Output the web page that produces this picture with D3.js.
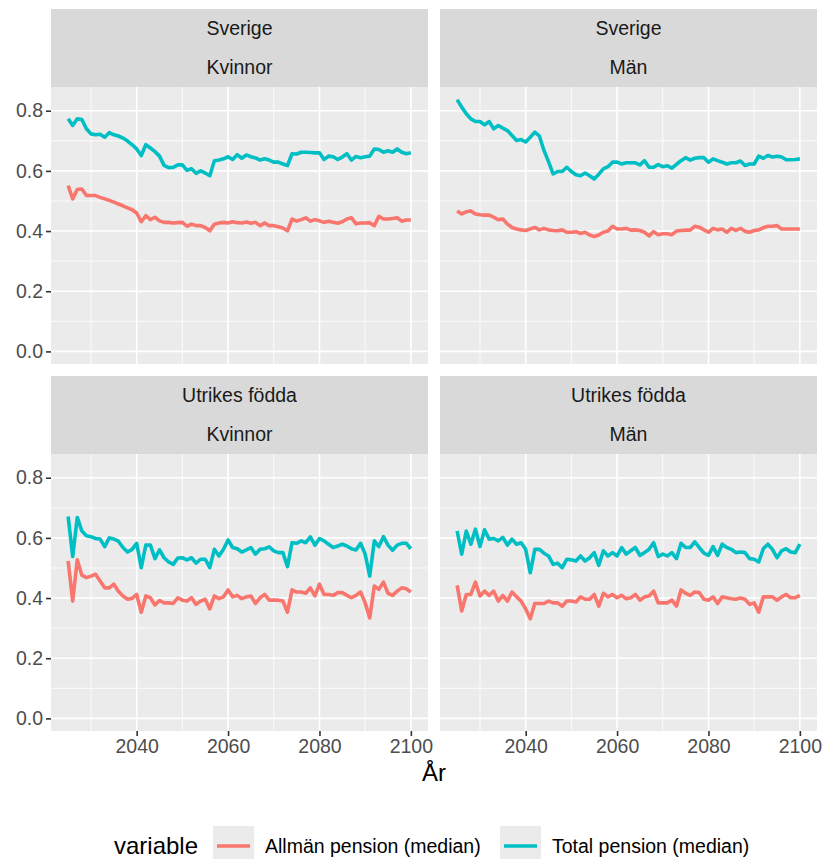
<!DOCTYPE html>
<html lang="sv">
<head>
<meta charset="utf-8"/>
<title>Pension (median)</title>
<script src="https://cdn.jsdelivr.net/npm/d3@7"></script>
<style>
  body { margin: 0; background: #fff; }
  svg text { font-family: "Liberation Sans", Arial, sans-serif; }
</style>
</head>
<body>
<svg id="chart" width="824" height="859"></svg>
<script>

const years = d3.range(2025, 2101)

const variables = ['Allmän pension (median)', 'Total pension (median)']
const colors = ['#F8766D', '#00BFC4']

const regions = ['Sverige', 'Utrikes födda']
const sexes = ['Kvinnor', 'Män']

const sverigeKvinnorAllman = [
  0.551,0.507,0.538,0.540,0.518,0.518,0.518,0.512,0.507,0.502,0.496,0.490,0.484,0.477,0.471,0.460,
  0.431,0.451,0.438,0.446,0.434,0.429,0.429,0.427,0.428,0.429,0.416,0.423,0.418,0.418,0.412,0.401,
  0.423,0.427,0.429,0.427,0.431,0.428,0.427,0.430,0.426,0.429,0.418,0.427,0.418,0.418,0.414,0.410,
  0.401,0.440,0.433,0.438,0.444,0.433,0.438,0.434,0.429,0.433,0.429,0.426,0.431,0.440,0.444,0.424,
  0.427,0.427,0.428,0.418,0.449,0.440,0.440,0.442,0.444,0.433,0.437,0.437]
const sverigeKvinnorTotal = [
  0.773,0.751,0.773,0.771,0.740,0.723,0.720,0.722,0.712,0.727,0.720,0.716,0.709,0.699,0.687,0.673,
  0.651,0.687,0.676,0.664,0.649,0.618,0.611,0.612,0.620,0.620,0.602,0.607,0.592,0.600,0.593,0.584,
  0.634,0.636,0.640,0.647,0.638,0.654,0.642,0.653,0.647,0.643,0.636,0.640,0.636,0.629,0.629,0.623,
  0.618,0.657,0.656,0.662,0.662,0.661,0.660,0.660,0.638,0.649,0.647,0.638,0.646,0.657,0.636,0.648,
  0.644,0.647,0.649,0.673,0.671,0.662,0.667,0.662,0.673,0.662,0.657,0.660]

const sverigeManAllman = [
  0.467,0.457,0.464,0.467,0.457,0.454,0.453,0.453,0.446,0.438,0.440,0.423,0.412,0.407,0.404,0.402,
  0.407,0.412,0.404,0.409,0.404,0.402,0.401,0.404,0.396,0.396,0.398,0.392,0.396,0.387,0.382,0.387,
  0.396,0.400,0.416,0.407,0.407,0.409,0.403,0.404,0.402,0.396,0.384,0.398,0.388,0.391,0.391,0.388,
  0.400,0.402,0.403,0.403,0.416,0.413,0.404,0.396,0.409,0.404,0.407,0.396,0.409,0.402,0.409,0.399,
  0.396,0.402,0.404,0.411,0.416,0.416,0.418,0.407,0.407,0.407,0.407,0.407]
const sverigeManTotal = [
  0.837,0.812,0.790,0.773,0.764,0.764,0.753,0.764,0.740,0.751,0.742,0.734,0.718,0.701,0.704,0.696,
  0.712,0.729,0.716,0.668,0.631,0.590,0.598,0.598,0.612,0.598,0.587,0.584,0.593,0.584,0.573,0.589,
  0.607,0.614,0.629,0.629,0.623,0.627,0.627,0.627,0.620,0.634,0.612,0.612,0.621,0.614,0.617,0.609,
  0.622,0.634,0.644,0.636,0.642,0.644,0.644,0.629,0.640,0.634,0.629,0.623,0.627,0.627,0.633,0.618,
  0.623,0.623,0.649,0.642,0.651,0.646,0.649,0.646,0.637,0.637,0.638,0.640]

const utrikesKvinnorAllman = [
  0.523,0.390,0.527,0.476,0.468,0.473,0.479,0.457,0.434,0.434,0.446,0.423,0.407,0.396,0.399,0.412,
  0.353,0.407,0.401,0.377,0.392,0.384,0.384,0.382,0.401,0.393,0.390,0.401,0.379,0.390,0.396,0.364,
  0.407,0.398,0.404,0.427,0.404,0.409,0.398,0.404,0.407,0.382,0.401,0.412,0.393,0.393,0.393,0.390,
  0.353,0.427,0.420,0.420,0.416,0.434,0.407,0.446,0.412,0.412,0.409,0.418,0.418,0.409,0.401,0.409,
  0.420,0.384,0.334,0.440,0.429,0.453,0.416,0.409,0.423,0.434,0.431,0.420]
const utrikesKvinnorTotal = [
  0.671,0.538,0.668,0.623,0.607,0.604,0.598,0.596,0.571,0.600,0.596,0.589,0.568,0.553,0.562,0.582,
  0.501,0.576,0.576,0.531,0.560,0.534,0.520,0.512,0.533,0.534,0.527,0.534,0.516,0.529,0.529,0.501,
  0.562,0.540,0.562,0.593,0.568,0.564,0.553,0.560,0.568,0.546,0.562,0.564,0.570,0.557,0.551,0.551,
  0.504,0.584,0.582,0.590,0.584,0.603,0.576,0.598,0.590,0.579,0.568,0.573,0.579,0.573,0.564,0.560,
  0.582,0.546,0.473,0.590,0.571,0.604,0.576,0.559,0.576,0.582,0.582,0.564]

const utrikesManAllman = [
  0.442,0.357,0.412,0.412,0.453,0.407,0.423,0.409,0.423,0.390,0.409,0.390,0.420,0.404,0.390,0.364,
  0.331,0.382,0.382,0.382,0.390,0.384,0.384,0.373,0.390,0.390,0.387,0.404,0.396,0.396,0.412,0.373,
  0.416,0.404,0.412,0.401,0.409,0.398,0.401,0.412,0.393,0.404,0.407,0.423,0.384,0.384,0.384,0.393,
  0.373,0.427,0.416,0.409,0.420,0.418,0.396,0.393,0.404,0.382,0.404,0.401,0.398,0.396,0.400,0.396,
  0.379,0.384,0.353,0.404,0.404,0.404,0.393,0.404,0.412,0.401,0.401,0.409]
const utrikesManTotal = [
  0.623,0.546,0.623,0.579,0.629,0.571,0.627,0.596,0.598,0.590,0.602,0.576,0.596,0.579,0.584,0.562,
  0.484,0.562,0.562,0.549,0.540,0.512,0.516,0.501,0.529,0.527,0.523,0.540,0.523,0.534,0.551,0.509,
  0.557,0.540,0.551,0.540,0.568,0.546,0.557,0.568,0.542,0.551,0.562,0.584,0.538,0.546,0.540,0.551,
  0.531,0.582,0.568,0.568,0.587,0.568,0.549,0.542,0.571,0.542,0.579,0.568,0.562,0.551,0.553,0.551,
  0.531,0.529,0.520,0.564,0.579,0.562,0.534,0.557,0.564,0.553,0.551,0.579]

const yTicks = [0, 0.2, 0.4, 0.6, 0.8]
const yMinor = [0.1, 0.3, 0.5, 0.7]
const xTicks = [2040, 2060, 2080, 2100]
const xMinor = [2030, 2050, 2070, 2090]

// facets, row by row
const panels = [
  {region: regions[0], sex: sexes[0], series: [sverigeKvinnorAllman, sverigeKvinnorTotal]},
  {region: regions[0], sex: sexes[1], series: [sverigeManAllman, sverigeManTotal]},
  {region: regions[1], sex: sexes[0], series: [utrikesKvinnorAllman, utrikesKvinnorTotal]},
  {region: regions[1], sex: sexes[1], series: [utrikesManAllman, utrikesManTotal]}
]

const svg = d3.select('#chart')

const colX = [51, 440]
const panelW = 377
const rowY = [9, 376]   // strip tops
const stripH = 78
const panelH = 277
const small = '19.5px'
const big = '24px'

// ggplot style 5% expansion
const allVals = panels.flatMap(p => p.series.flat())
const yMax = d3.max(allVals)
const yPad = yMax * 0.05
const xPad = (2100 - 2025) * 0.05

const x = d3.scaleLinear().domain([2025 - xPad, 2100 + xPad]).range([0, panelW])
const y = d3.scaleLinear().domain([0 - yPad, yMax + yPad]).range([panelH, 0])

const line = d3.line()
  .x((d, i) => x(years[i]))
  .y(d => y(d))

panels.forEach((p, k) => {
  const col = k % 2
  const row = Math.floor(k / 2)
  const g = svg.append('g')
    .attr('transform', `translate(${colX[col]},${rowY[row]})`)

  // strip
  g.append('rect')
    .attr('width', panelW).attr('height', stripH)
    .attr('fill', '#D9D9D9')
  g.append('text')
    .attr('x', panelW / 2).attr('y', 19)
    .attr('dy', '0.35em')
    .attr('text-anchor', 'middle')
    .attr('fill', '#1A1A1A')
    .style('font-size', small)
    .text(p.region)
  g.append('text')
    .attr('x', panelW / 2).attr('y', 58)
    .attr('dy', '0.35em')
    .attr('text-anchor', 'middle')
    .attr('fill', '#1A1A1A')
    .style('font-size', small)
    .text(p.sex)

  const pg = g.append('g').attr('transform', `translate(0,${stripH})`)

  pg.append('rect')
    .attr('width', panelW).attr('height', panelH)
    .attr('fill', '#EBEBEB')

  // grid
  pg.selectAll('.ymin').data(yMinor).enter().append('line')
    .attr('x1', 0).attr('x2', panelW)
    .attr('y1', d => y(d)).attr('y2', d => y(d))
    .attr('stroke', '#fff').attr('stroke-width', 0.8)
  pg.selectAll('.xmin').data(xMinor).enter().append('line')
    .attr('y1', 0).attr('y2', panelH)
    .attr('x1', d => x(d)).attr('x2', d => x(d))
    .attr('stroke', '#fff').attr('stroke-width', 0.8)
  pg.selectAll('.ymaj').data(yTicks).enter().append('line')
    .attr('x1', 0).attr('x2', panelW)
    .attr('y1', d => y(d)).attr('y2', d => y(d))
    .attr('stroke', '#fff').attr('stroke-width', 1.6)
  pg.selectAll('.xmaj').data(xTicks).enter().append('line')
    .attr('y1', 0).attr('y2', panelH)
    .attr('x1', d => x(d)).attr('x2', d => x(d))
    .attr('stroke', '#fff').attr('stroke-width', 1.6)

  p.series.forEach((s, i) => {
    pg.append('path')
      .datum(s)
      .attr('d', line)
      .attr('fill', 'none')
      .attr('stroke', colors[i])
      .attr('stroke-width', 3.6)
      .attr('stroke-linejoin', 'round')
  })

  if (col === 0) {
    const ax = pg.append('g')
      .call(d3.axisLeft(y).tickValues(yTicks).tickFormat(d3.format('.1f')).tickSize(5).tickPadding(3))
    ax.select('.domain').remove()
    ax.selectAll('line').attr('stroke', '#333333').attr('stroke-width', 1.6)
    ax.selectAll('text').attr('fill', '#4D4D4D').style('font-size', small)
  }
  if (row === 1) {
    const ax = pg.append('g')
      .attr('transform', `translate(0,${panelH})`)
      .call(d3.axisBottom(x).tickValues(xTicks).tickFormat(d3.format('d')).tickSize(5).tickPadding(3))
    ax.select('.domain').remove()
    ax.selectAll('line').attr('stroke', '#333333').attr('stroke-width', 1.6)
    ax.selectAll('text').attr('fill', '#4D4D4D').style('font-size', small)
  }
})

// axis title
svg.append('text')
  .attr('x', (colX[0] + colX[1] + panelW) / 2)
  .attr('y', 773)
  .attr('dy', '0.35em')
  .attr('text-anchor', 'middle')
  .attr('fill', '#000')
  .style('font-size', big)
  .text('År')

// legend
const legend = svg.append('g').attr('transform', 'translate(0,846)')
legend.append('text')
  .attr('x', 114).attr('dy', '0.35em')
  .style('font-size', big)
  .attr('fill', '#000')
  .text('variable')

const keyX = [213, 500]
variables.forEach((v, i) => {
  legend.append('rect')
    .attr('x', keyX[i]).attr('y', -20)
    .attr('width', 41).attr('height', 40)
    .attr('fill', '#EBEBEB')
  legend.append('line')
    .attr('x1', keyX[i] + 4).attr('x2', keyX[i] + 37)
    .attr('stroke', colors[i]).attr('stroke-width', 3.6)
  legend.append('text')
    .attr('x', keyX[i] + 52).attr('dy', '0.35em')
    .style('font-size', small)
    .attr('fill', '#000')
    .text(v)
})

</script>
</body>
</html>
